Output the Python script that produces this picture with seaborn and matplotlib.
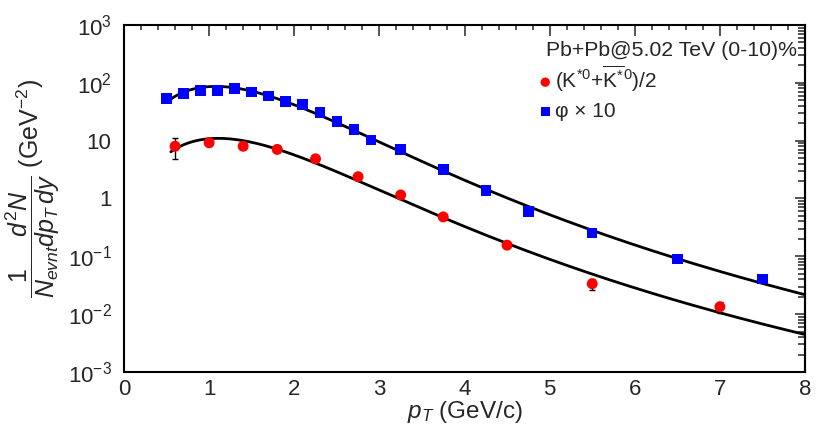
import numpy as np
import pandas as pd
import matplotlib
matplotlib.use("Agg")
import matplotlib.pyplot as plt
import matplotlib.ticker as mticker
import seaborn as sns

# K*0 (average of K*0 and anti-K*0), divided by 2
kstar_pt = [0.6, 1.0, 1.4, 1.8, 2.25, 2.75, 3.25, 3.75, 4.5, 5.5, 7.0]
kstar_y = [8.0, 9.2, 8.0, 7.05, 4.85, 2.38, 1.15, 0.48, 0.156, 0.0336, 0.0134]
kstar_err = [3.2, 1.0, 0.8, 0.5, 0.3, 0.15, 0.07, 0.03, 0.012, 0.007, 0.003]

# phi meson, scaled by 10
phi_pt = [0.5, 0.7, 0.9, 1.1, 1.3, 1.5, 1.7, 1.9, 2.1, 2.3, 2.5, 2.7, 2.9,
          3.25, 3.75, 4.25, 4.75, 5.5, 6.5, 7.5]
phi_y = [53.4, 65.0, 73.4, 74.3, 80.4, 69.3, 59.2, 48.0, 42.6, 31.0, 21.4,
         15.6, 10.3, 7.05, 3.14, 1.38, 0.60, 0.254, 0.0906, 0.0405]

ytick_vals = [1e-3, 1e-2, 1e-1, 1, 10, 1e2, 1e3]
ytick_text = [r'$10^{-3}$', r'$10^{-2}$', r'$10^{-1}$', '1', '10',
              r'$10^{2}$', r'$10^{3}$']

sns.set_style("white")
plt.rcParams['font.family'] = ['Liberation Sans', 'DejaVu Sans']
plt.rcParams['mathtext.fontset'] = 'custom'
plt.rcParams['mathtext.rm'] = 'Liberation Sans'
plt.rcParams['mathtext.it'] = 'Liberation Sans:italic'
plt.rcParams['mathtext.bf'] = 'Liberation Sans:bold'
plt.rcParams['mathtext.sf'] = 'Liberation Sans'


def levy_log(pt, T, n, m0, a):
    mt = np.sqrt(pt**2 + m0**2)
    return a * np.log(pt) - n * np.log1p((mt - m0) / (n * T))


def fit_levy(pt, y):
    # grid search over (T, n, m0, a), weighted by sqrt of bin width, norm solved in log space
    w = np.sqrt(np.gradient(np.asarray(pt, dtype=float)))[None, None, :]
    pt = np.asarray(pt)[None, None, :]
    ly = np.log(np.asarray(y))[None, None, :]
    T = np.linspace(0.03, 1.5, 75)[:, None, None]
    n = np.linspace(3, 60, 115)[None, :, None]
    best = None
    for a in np.linspace(1.0, 3.0, 11):
        for m0 in np.linspace(0.2, 4.0, 20):
            g = levy_log(pt, T, n, m0, a)
            lc = np.sum(w * (ly - g), axis=-1, keepdims=True) / np.sum(w)
            chi = np.sum(w * (ly - lc - g)**2, axis=-1)
            i, j = np.unravel_index(np.argmin(chi), chi.shape)
            if best is None or chi[i, j] < best[0]:
                best = (chi[i, j], lc[i, j, 0], T[i, 0, 0], n[0, j, 0], m0, a)
    return best[1:]


fig = plt.figure(figsize=(8.3, 4.38), dpi=100)
ax = fig.add_axes([0.1494, 0.1507, 0.8205, 0.7923])

pt_curve = np.linspace(0.55, 8, 300)
for pt, y in [(kstar_pt, kstar_y), (phi_pt, phi_y)]:
    lc, T, n, m0, a = fit_levy(pt, y)
    curve = pd.DataFrame({'pt': pt_curve,
                          'y': np.exp(lc + levy_log(pt_curve, T, n, m0, a))})
    sns.lineplot(data=curve, x='pt', y='y', ax=ax, color='black', lw=2, zorder=2)

ax.errorbar(kstar_pt, kstar_y, yerr=kstar_err, fmt='none', ecolor='black',
            elinewidth=1, capsize=2, capthick=1, zorder=3)

sns.scatterplot(x=kstar_pt, y=kstar_y, ax=ax, color='#ff0000', marker='o',
                s=62, edgecolor='none', zorder=4,
                label=r'$(\mathrm{K}^{*0}$+$\overline{\mathrm{K}^{*}}^{0})/2$')
sns.scatterplot(x=phi_pt, y=phi_y, ax=ax, color='#0000ff', marker='s',
                s=58, edgecolor='none', zorder=4, label='φ × 10')

ax.set_yscale('log')
ax.set_xlim(0, 8)
ax.set_ylim(1e-3, 1e3)

ax.xaxis.set_major_locator(mticker.MultipleLocator(1))
ax.xaxis.set_minor_locator(mticker.MultipleLocator(0.2))
ax.yaxis.set_major_locator(mticker.FixedLocator(ytick_vals))
ax.yaxis.set_major_formatter(mticker.FixedFormatter(ytick_text))
ax.yaxis.set_minor_locator(mticker.LogLocator(base=10, subs=np.arange(2, 10), numticks=20))
ax.yaxis.set_minor_formatter(mticker.NullFormatter())

ax.tick_params(axis='x', which='major', direction='in', top=True, length=7.7,
               width=1.1, labelsize=16, pad=5)
ax.tick_params(axis='x', which='minor', direction='in', top=True, length=3.6, width=1.1)
ax.tick_params(axis='y', which='major', direction='in', right=False, length=12,
               width=1.1, labelsize=16, pad=9)
ax.tick_params(axis='y', which='minor', direction='in', right=False, length=6.5, width=1.1)

# right side ticks are shorter in the original
sec = ax.secondary_yaxis('right')
sec.yaxis.set_major_locator(mticker.FixedLocator(ytick_vals))
sec.yaxis.set_minor_locator(mticker.LogLocator(base=10, subs=np.arange(2, 10), numticks=20))
sec.tick_params(which='major', direction='in', length=7.2, width=1.1, labelright=False)
sec.tick_params(which='minor', direction='in', length=5, width=1.1, labelright=False)
sec.spines['right'].set_linewidth(1.5)

for s in ax.spines.values():
    s.set_linewidth(1.5)
    s.set_color('black')

ax.set_xlabel(r'$p_{T}$ (GeV/c)', fontsize=17.5, labelpad=-1)
ax.set_ylabel(r'$\dfrac{1\quad\;\;d^{2}N}{N_{evnt}dp_{T}\,dy}$ (GeV$^{-2}$)', fontsize=18)
ax.yaxis.set_label_coords(-0.091, 0.53)

ax.text(797 / 830, 1 - 50 / 438, 'Pb+Pb@5.02 TeV (0-10)%', transform=fig.transFigure,
        ha='right', va='center', fontsize=15.3)

leg = ax.legend(loc='upper left', bbox_to_anchor=(539 / 830, 1 - 63 / 438),
                bbox_transform=fig.transFigure, frameon=False, fontsize=15,
                handlelength=0.6, handletextpad=0.15, borderpad=0, borderaxespad=0,
                labelspacing=0.4, markerscale=0.85)

fig.savefig('out.png', dpi=100)
